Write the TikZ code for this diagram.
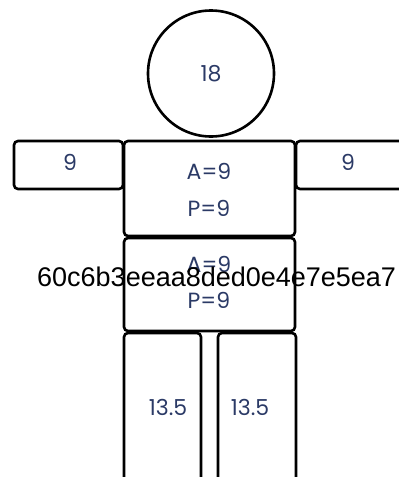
\documentclass[tikz,border=0pt]{standalone}
\usepackage{fontspec}
\setmainfont{Poppins}
\newfontfamily\labelfont{Liberation Sans}
\definecolor{inkblue}{HTML}{2B3A66}
\tikzset{
  part/.style={draw=black, line width=2.6pt, rounded corners=4pt, inner sep=0pt},
  num/.style={text=inkblue, font=\fontsize{22}{24}\selectfont},
}
\begin{document}
\begin{tikzpicture}[x=1pt, y=-1pt]
  \useasboundingbox (0,0) rectangle (399,477);
  \clip (0,0) rectangle (399,477);
  % head
  \node[draw=black, line width=2.6pt, circle, minimum size=126pt, inner sep=0pt] (head) at (211,73.5) {};
  \node[num] (headtxt) at (head.center) {18};
  % arms
  \node[part, minimum width=109pt, minimum height=48pt] (larm) at (68.5,165) {};
  \node[part, minimum width=114pt, minimum height=48pt] (rarm) at (353,165) {};
  \node[num] (larmtxt) at (70,162) {9};
  \node[num] (rarmtxt) at (348,162) {9};
  % torso
  \node[part, minimum width=171pt, minimum height=95pt] (chest) at (209.5,188.5) {};
  \node[part, minimum width=171pt, minimum height=93pt] (belly) at (209.5,284.5) {};
  \node[num] (chesta) at (209,171) {A=9};
  \node[num] (chestp) at (209,208) {P=9};
  \node[num] (bellya) at (209,264) {A=9};
  \node[num] (bellyp) at (209,300) {P=9};
  % legs
  \node[part, minimum width=77pt, minimum height=160pt] (lleg) at (162.5,413) {};
  \node[part, minimum width=78pt, minimum height=160pt] (rleg) at (257,413) {};
  \node[num] (llegtxt) at (168,407) {13.5};
  \node[num] (rlegtxt) at (250,407) {13.5};
  % identifier across the body
  \node[anchor=west, inner sep=0pt, font=\labelfont\fontsize{27}{29}\selectfont] (ident) at (37,277) {60c6b3eeaa8ded0e4e7e5ea7};
\end{tikzpicture}
\end{document}
